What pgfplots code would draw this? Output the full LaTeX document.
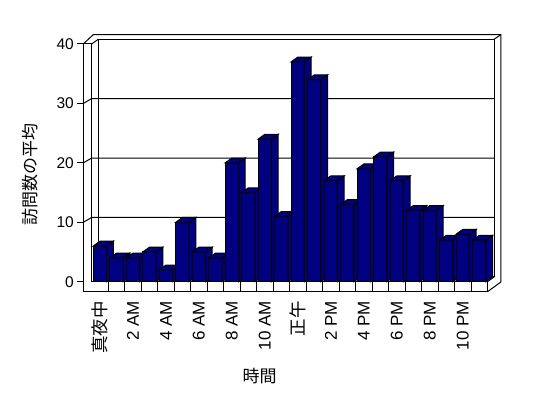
\documentclass[border=0pt]{standalone}
\usepackage{pgfplots}
\pgfplotsset{compat=1.18}
\usepackage{fontspec}
\setmainfont{Liberation Sans}
\newfontfamily\jp{Noto Sans CJK JP}
\definecolor{barblue}{RGB}{0,0,128}
\pgfdeclareplotmark{nothing}{}
\begin{document}
\begin{tikzpicture}[x=1pt,y=1pt]
\useasboundingbox (0,0) rectangle (548,398);
\begin{axis}[
  at={(83.3pt,106.3pt)}, anchor=south west, scale only axis,
  width=404.2pt, height=247.7pt,
  xmin=-0.509, xmax=24, ymin=-1.684, ymax=40,
  clip=false,
  axis line style={draw=none},
  /pgf/number format/assume math mode=true,
  ytick={0,10,20,30,40}, ytick pos=left, tick align=outside, major tick length=6pt,
  y tick style={black, line width=1pt},
  yticklabel style={font=\fontsize{15.5}{15.5}\selectfont},
  xtick={0.5,2.5,...,22.5},
  xticklabels={{\jp\fontsize{17.5}{17.5}\selectfont 真夜中},2 AM,4 AM,6 AM,8 AM,10 AM,{\jp\fontsize{17.5}{17.5}\selectfont 正午},2 PM,4 PM,6 PM,8 PM,10 PM},
  x tick style={draw=none},
  xticklabel style={rotate=90, anchor=east, font=\fontsize{17}{17}\selectfont},
]
% back wall and floor back edge
\draw[line width=1pt] ([shift={(6.7pt,4.8pt)}]axis cs:0,0) rectangle ([shift={(6.7pt,4.8pt)}]axis cs:24,40);
% gridlines
\pgfplotsinvokeforeach{10,20,30}{
  \draw[line width=1pt] (axis cs:-0.509,#1) -- ([shift={(8.4pt,4.8pt)}]axis cs:-0.509,#1) -- ([shift={(6.7pt,4.8pt)}]axis cs:24,#1);
}
% left wall front face and floor front face
\draw[line width=1pt] (axis cs:-0.509,-1.684) -- (axis cs:-0.509,40) -- (axis cs:0,40) -- (axis cs:0,0) -- (axis cs:24,0) -- (axis cs:24,-1.684) -- cycle;
% outer outline
\draw[line width=1pt] (axis cs:-0.509,40) -- ([shift={(10pt,9.4pt)}]axis cs:-0.509,40) -- ([shift={(13.4pt,9.4pt)}]axis cs:24,40) -- ([shift={(13.4pt,9.7pt)}]axis cs:24,-1.684) -- (axis cs:24,-1.684);
\draw[line width=1pt] (axis cs:0,40) -- ([shift={(6.7pt,4.8pt)}]axis cs:0,40);
\draw[line width=1pt] ([shift={(6.7pt,4.8pt)}]axis cs:24,40) -- ([shift={(13.4pt,9.4pt)}]axis cs:24,40);
\draw[line width=1pt] (axis cs:24,0) -- ([shift={(6.7pt,4.8pt)}]axis cs:24,0);
% floor dividers
\pgfplotsinvokeforeach{1,...,23}{
  \draw[line width=1pt] (axis cs:#1,-1.684) -- (axis cs:#1,0);
}
% 3D bars
\addplot[only marks, mark=nothing, scatter,
  visualization depends on={\thisrow{v} \as \barv},
  scatter/@pre marker code/.code={%
    \pgfmathsetmacro{\hh}{\barv*5.9425}%
    \filldraw[fill=barblue, draw=black, line width=1pt] (-6.65pt,-\hh pt) rectangle (6.65pt,0pt);
    \filldraw[fill=barblue, draw=black, line width=1pt] (6.65pt,-\hh pt) -- (13.35pt,-\hh pt+4.8pt) -- (13.35pt,4.8pt) -- (6.65pt,0pt) -- cycle;
    \filldraw[fill=barblue, draw=black, line width=1pt] (-6.65pt,0pt) -- (0.05pt,4.8pt) -- (13.35pt,4.8pt) -- (6.65pt,0pt) -- cycle;
  },
  scatter/@post marker code/.code={},
] table {
x v
0.5 6
1.5 4
2.5 4
3.5 5
4.5 2
5.5 10
6.5 5
7.5 4
8.5 20
9.5 15
10.5 24
11.5 11
12.5 37
13.5 34
14.5 17
15.5 13
16.5 19
17.5 21
18.5 17
19.5 12
20.5 12
21.5 7
22.5 8
23.5 7
};
\end{axis}
\node[rotate=90, font=\jp\fontsize{17}{17}\selectfont] at (30,223) {訪問数の平均};
\node[font=\jp\fontsize{17}{17}\selectfont] at (259.5,22) {時間};
\end{tikzpicture}
\end{document}
